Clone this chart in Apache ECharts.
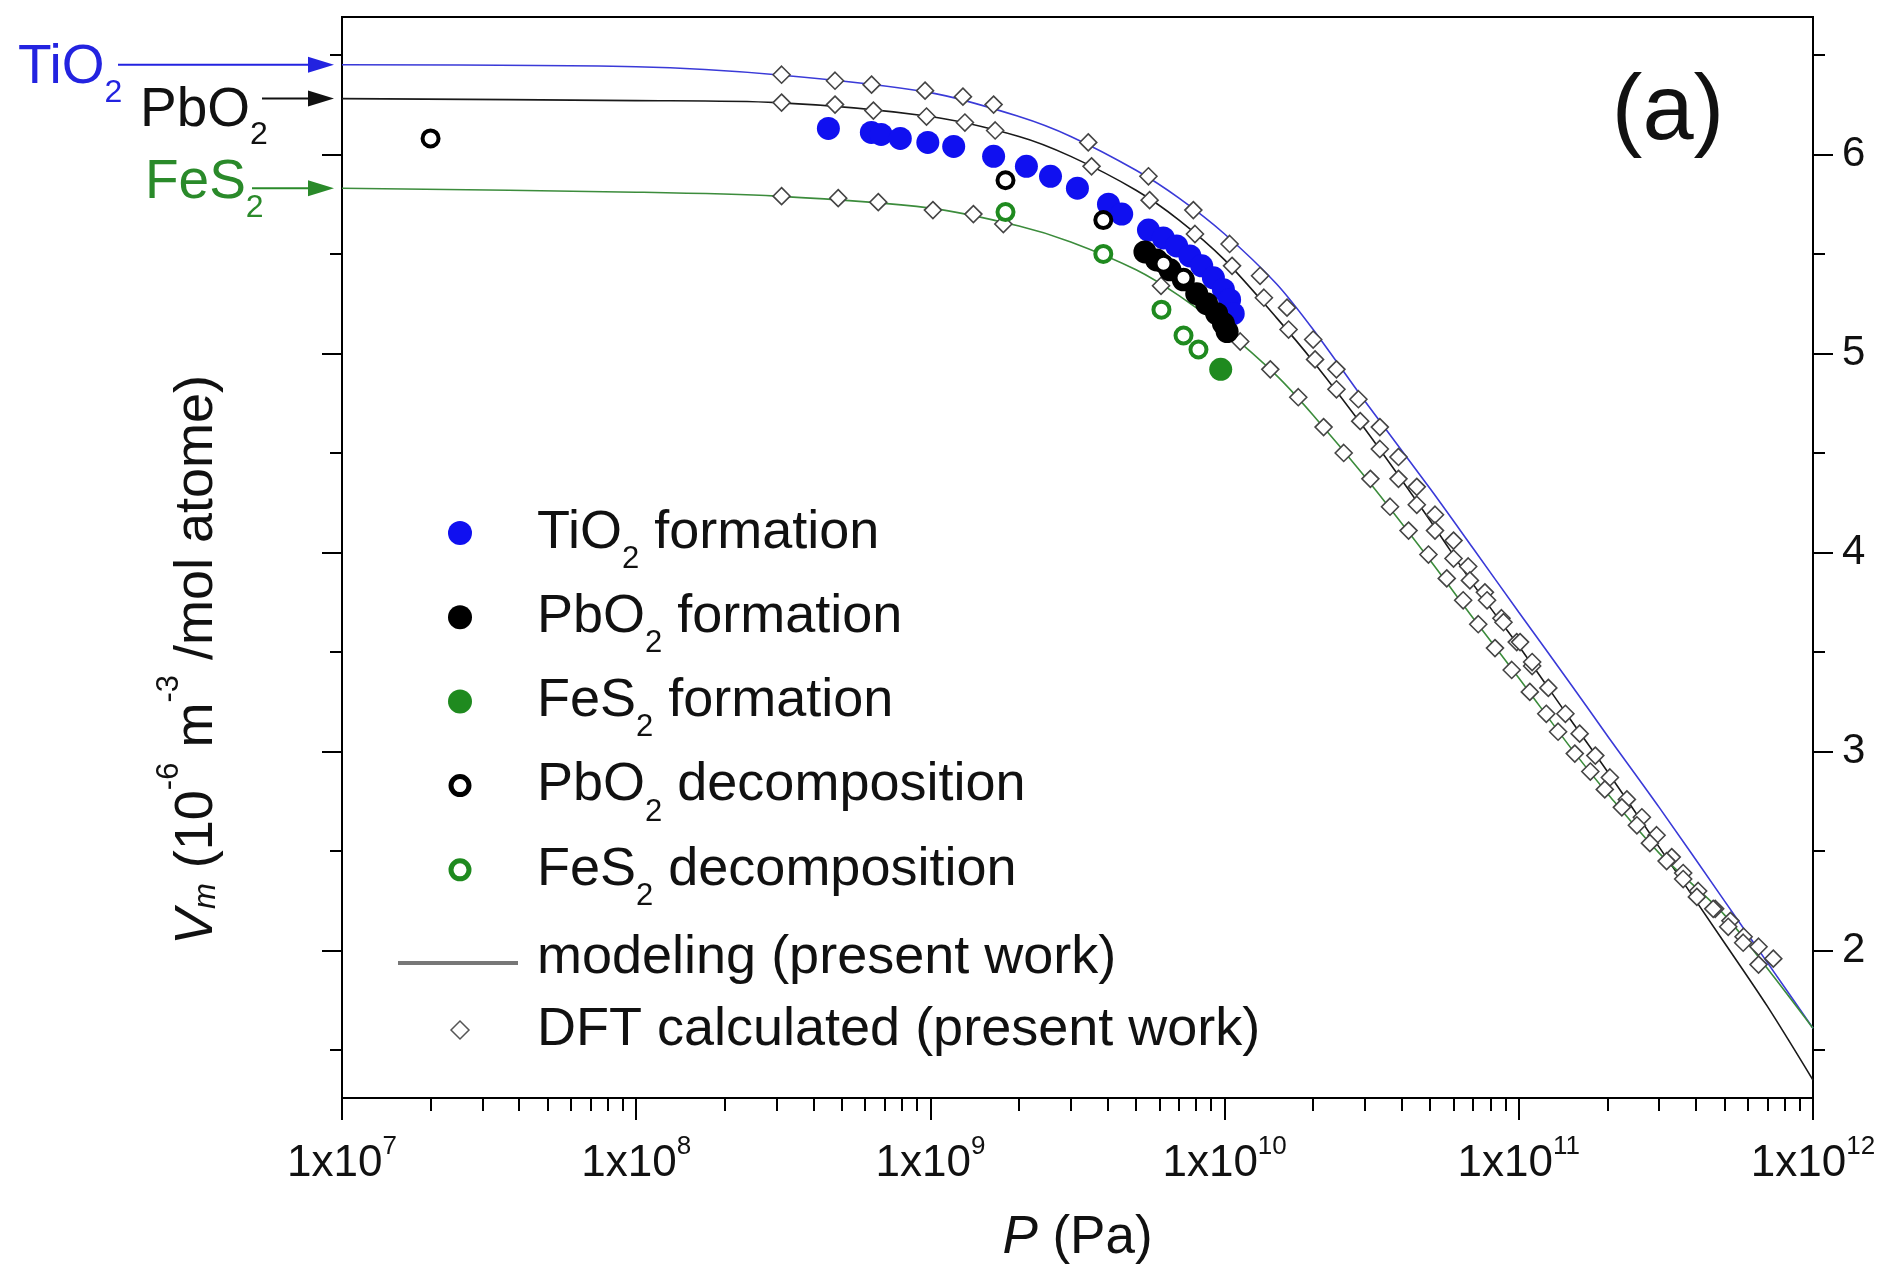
<!DOCTYPE html>
<html>
<head>
<meta charset="utf-8">
<title>Vm vs P</title>
<script src="https://cdn.jsdelivr.net/npm/echarts@6/dist/echarts.min.js"></script>
<style>
html, body { margin: 0; padding: 0; background: #fff; }
#main { width: 1881px; height: 1278px; }
</style>
</head>
<body>
<div id="main"></div>
<script>
var FONT = '"Liberation Sans", Arial, Helvetica, sans-serif';

// axis ticks
var xMajorTicks = [1e7, 1e8, 1e9, 1e10, 1e11, 1e12];
var xMinorMantissa = [2, 3, 4, 5, 6, 7, 8, 9];
var yMajorTicks = [2, 3, 4, 5, 6];
var yMinorTicks = [1.5, 2.5, 3.5, 4.5, 5.5, 6.5];

// modeling curves [P (Pa), Vm]
var modelTiO2 = [[1e7, 6.45], [1e8, 6.44], [3e8, 6.40], [1e9, 6.31], [2e9, 6.19], [3e9, 6.09], [5e9, 5.92], [7e9, 5.78], [1e10, 5.60], [1.5e10, 5.35], [2e10, 5.12], [3e10, 4.76], [5e10, 4.32], [7e10, 4.02], [1e11, 3.70], [1.5e11, 3.34], [2e11, 3.08], [3e11, 2.72], [5e11, 2.25], [7e11, 1.94], [1e12, 1.61]];
var modelPbO2 = [[1e7, 6.28], [1e8, 6.27], [3e8, 6.26], [1e9, 6.19], [2e9, 6.09], [3e9, 5.99], [5e9, 5.82], [7e9, 5.67], [1e10, 5.47], [1.5e10, 5.18], [2e10, 4.96], [3e10, 4.62], [5e10, 4.16], [7e10, 3.84], [1e11, 3.53], [1.5e11, 3.16], [2e11, 2.90], [3e11, 2.52], [5e11, 2.04], [7e11, 1.72], [1e12, 1.35]];
var modelFeS2 = [[1e7, 5.83], [1e8, 5.81], [3e8, 5.79], [1e9, 5.73], [2e9, 5.64], [3e9, 5.56], [5e9, 5.42], [7e9, 5.29], [1e10, 5.12], [1.5e10, 4.89], [2e10, 4.69], [3e10, 4.38], [5e10, 3.96], [7e10, 3.67], [1e11, 3.37], [1.5e11, 3.02], [2e11, 2.79], [3e11, 2.49], [5e11, 2.18], [7e11, 1.91], [1e12, 1.61]];

// DFT calculated points
var dftTiO2 = [[3.12e8, 6.40], [4.74e8, 6.37], [6.31e8, 6.35], [9.59e8, 6.32], [1.29e9, 6.29], [1.64e9, 6.25], [3.44e9, 6.06], [5.51e9, 5.89], [7.83e9, 5.72], [1.04e10, 5.55], [1.32e10, 5.39], [1.63e10, 5.23], [2.0e10, 5.07], [2.4e10, 4.92], [2.85e10, 4.77], [3.37e10, 4.63], [3.9e10, 4.48], [4.5e10, 4.33], [5.19e10, 4.19], [6.0e10, 4.06], [6.73e10, 3.93], [7.67e10, 3.80], [8.73e10, 3.67], [9.84e10, 3.55], [1.11e11, 3.43], [1.26e11, 3.32], [1.44e11, 3.19], [1.61e11, 3.09], [1.82e11, 2.98], [2.04e11, 2.87], [2.33e11, 2.76], [2.62e11, 2.67], [2.94e11, 2.58], [3.31e11, 2.47], [3.62e11, 2.39], [4.07e11, 2.30], [4.65e11, 2.21], [5.24e11, 2.15], [5.81e11, 2.07], [6.53e11, 2.02], [7.33e11, 1.96]];
var dftPbO2 = [[3.12e8, 6.26], [4.74e8, 6.25], [6.4e8, 6.22], [9.7e8, 6.19], [1.31e9, 6.16], [1.66e9, 6.12], [3.53e9, 5.94], [5.56e9, 5.77], [7.93e9, 5.60], [1.06e10, 5.44], [1.36e10, 5.28], [1.65e10, 5.12], [2.03e10, 4.97], [2.4e10, 4.82], [2.89e10, 4.66], [3.37e10, 4.52], [3.9e10, 4.37], [4.5e10, 4.24], [5.19e10, 4.11], [6.0e10, 3.97], [6.82e10, 3.86], [7.8e10, 3.76], [8.87e10, 3.65], [1.01e11, 3.55], [1.11e11, 3.45]];
var dftFeS2 = [[3.12e8, 5.79], [4.86e8, 5.78], [6.65e8, 5.76], [1.02e9, 5.72], [1.4e9, 5.70], [1.77e9, 5.65], [6.08e9, 5.34], [1.13e10, 5.06], [1.43e10, 4.92], [1.78e10, 4.78], [2.17e10, 4.63], [2.54e10, 4.50], [3.13e10, 4.37], [3.65e10, 4.23], [4.22e10, 4.11], [4.93e10, 3.99], [5.69e10, 3.87], [6.47e10, 3.76], [7.28e10, 3.64], [8.3e10, 3.52], [9.46e10, 3.41], [1.09e11, 3.30], [1.24e11, 3.19], [1.36e11, 3.10], [1.55e11, 2.99], [1.75e11, 2.90], [1.96e11, 2.81], [2.24e11, 2.72], [2.52e11, 2.63], [2.79e11, 2.54], [3.18e11, 2.45], [3.62e11, 2.36], [4.03e11, 2.27], [4.58e11, 2.21], [5.15e11, 2.12], [5.79e11, 2.04], [6.53e11, 1.93]];

// experimental points
var tio2Formation = [[4.5e8, 6.13], [6.3e8, 6.11], [6.8e8, 6.10], [7.9e8, 6.08], [9.8e8, 6.06], [1.2e9, 6.04], [1.64e9, 5.99], [2.12e9, 5.94], [2.56e9, 5.89], [3.16e9, 5.83], [4.03e9, 5.75], [4.47e9, 5.70], [5.51e9, 5.62], [6.19e9, 5.58], [6.87e9, 5.54], [7.62e9, 5.49], [8.36e9, 5.44], [9.16e9, 5.38], [9.91e9, 5.32], [1.04e10, 5.27], [1.07e10, 5.20]];
var pbo2Formation = [[5.36e9, 5.51], [5.87e9, 5.47], [6.52e9, 5.42], [7.24e9, 5.37], [8.04e9, 5.30], [8.69e9, 5.25], [9.4e9, 5.20], [9.91e9, 5.15], [1.02e10, 5.11]];
var fes2Formation = [[9.7e9, 4.92]];
var pbo2Decomposition = [[2e7, 6.08], [1.8e9, 5.87], [3.87e9, 5.67], [6.2e9, 5.45], [7.25e9, 5.38]];
var fes2Decomposition = [[1.8e9, 5.71], [3.87e9, 5.50], [6.1e9, 5.22], [7.25e9, 5.09], [8.15e9, 5.02]];

var BLUE = '#1010f0';
var GREEN = '#1f8a1f';

var xMinorTicks = [];
for (var d = 0; d < xMajorTicks.length - 1; d++) {
	for (var k = 0; k < xMinorMantissa.length; k++) {
		xMinorTicks.push(xMinorMantissa[k] * xMajorTicks[d]);
	}
}

var Y_MIN = 1.26, Y_MAX = 6.69;

function yAxisDef(pos, ticks, len, labels) {
	return {
		type: 'value', position: pos, min: Y_MIN, max: Y_MAX,
		axisLine: { show: true, onZero: false, lineStyle: { color: '#000', width: 2 } },
		axisTick: { show: true, inside: false, length: len, customValues: ticks, lineStyle: { color: '#000', width: 2 } },
		axisLabel: labels ? { show: true, customValues: labels, margin: 29, fontSize: 42, fontFamily: FONT, color: '#111' } : { show: false },
		splitLine: { show: false }
	};
}

function lineSeries(name, data, color) {
	return {
		name: name, type: 'line', data: data, smooth: 0.3,
		symbol: 'none', showSymbol: false, silent: true, z: 2,
		lineStyle: { color: color, width: 1.6 }
	};
}

function scatterSeries(name, data, symbol, size, style, z) {
	style.opacity = 1;
	return { name: name, type: 'scatter', data: data, symbol: symbol, symbolSize: size, itemStyle: style, z: z, silent: true };
}

var dftStyle = function () { return { color: '#fff', borderColor: '#444', borderWidth: 1.6 }; };

var option = {
	animation: false,
	backgroundColor: '#fff',
	grid: {
		left: 342, right: 68, top: 17, bottom: 180,
		show: true, borderColor: '#000', borderWidth: 2,
		containLabel: false, outerBoundsMode: 'none'
	},
	xAxis: [{
		type: 'log', logBase: 10, position: 'bottom', min: 1e7, max: 1e12,
		axisLine: { show: true, onZero: false, lineStyle: { color: '#000', width: 2 } },
		axisTick: { show: true, inside: false, length: 22, customValues: xMajorTicks, lineStyle: { color: '#000', width: 2 } },
		axisLabel: {
			show: true, customValues: xMajorTicks, margin: 36,
			formatter: function (v) {
				return '{m|1x10}{e|' + Math.round(Math.log10(v)) + '}';
			},
			rich: {
				m: { fontSize: 44, lineHeight: 60, fontFamily: FONT, color: '#111' },
				e: { fontSize: 26, lineHeight: 26, verticalAlign: 'top', fontFamily: FONT, color: '#111' }
			}
		},
		splitLine: { show: false },
		name: '{i|P}{m| (Pa)}', nameLocation: 'middle', nameGap: 114,
		nameTextStyle: {
			rich: {
				i: { fontSize: 53, fontStyle: 'italic', fontFamily: FONT, color: '#111' },
				m: { fontSize: 53, fontFamily: FONT, color: '#111' }
			}
		}
	}, {
		type: 'log', logBase: 10, position: 'bottom', min: 1e7, max: 1e12,
		axisLine: { show: false },
		axisTick: { show: true, inside: false, length: 13, customValues: xMinorTicks, lineStyle: { color: '#000', width: 2 } },
		axisLabel: { show: false },
		splitLine: { show: false }
	}],
	yAxis: [
		yAxisDef('left', yMajorTicks, 20, null),
		yAxisDef('left', yMinorTicks, 12, null),
		yAxisDef('right', yMajorTicks, 20, yMajorTicks),
		yAxisDef('right', yMinorTicks, 12, null)
	],
	series: [
		lineSeries('TiO2 modeling', modelTiO2, '#3a3ad8'),
		lineSeries('PbO2 modeling', modelPbO2, '#1a1a1a'),
		lineSeries('FeS2 modeling', modelFeS2, '#3c8c3c'),
		scatterSeries('TiO2 DFT', dftTiO2, 'diamond', 17, dftStyle(), 3),
		scatterSeries('PbO2 DFT', dftPbO2, 'diamond', 17, dftStyle(), 3),
		scatterSeries('FeS2 DFT', dftFeS2, 'diamond', 17, dftStyle(), 3),
		scatterSeries('TiO2 formation', tio2Formation, 'circle', 23, { color: BLUE }, 4),
		scatterSeries('PbO2 formation', pbo2Formation, 'circle', 23, { color: '#000' }, 5),
		scatterSeries('FeS2 formation', fes2Formation, 'circle', 23, { color: GREEN }, 5),
		scatterSeries('PbO2 decomposition', pbo2Decomposition, 'circle', 16, { color: '#fff', borderColor: '#000', borderWidth: 4 }, 6),
		scatterSeries('FeS2 decomposition', fes2Decomposition, 'circle', 16, { color: '#fff', borderColor: GREEN, borderWidth: 4 }, 6)
	]
};

var chart = echarts.init(document.getElementById('main'));
chart.setOption(option);

// rich text styles with subscripts
function bigRich(color, size, subPad) {
	return {
		m: { fontSize: size, lineHeight: 90, fontFamily: FONT, fill: color },
		s: { fontSize: Math.round(size * 0.58), lineHeight: 30, verticalAlign: 'top', padding: [subPad, 0, 0, 0], fontFamily: FONT, fill: color }
	};
}

var graphics = [];

// "(a)"
graphics.push({ type: 'text', x: 1668, y: 114, style: { text: '(a)', fontSize: 92, fontFamily: FONT, fill: '#111', align: 'center', verticalAlign: 'middle' } });

// y axis title
graphics.push({
	type: 'text', x: 197, y: 660, rotation: Math.PI / 2,
	style: {
		text: '{i|V}{is|m}{m| (10}{p|-6}{m| m}{p|-3}{m| /mol atome)}',
		align: 'center', verticalAlign: 'middle',
		rich: {
			m: { fontSize: 54, lineHeight: 86, fontFamily: FONT, fill: '#111' },
			i: { fontSize: 54, lineHeight: 86, fontStyle: 'italic', fontFamily: FONT, fill: '#111' },
			is: { fontSize: 31, lineHeight: 31, fontStyle: 'italic', verticalAlign: 'top', padding: [37, 0, 0, 0], fontFamily: FONT, fill: '#111' },
			p: { fontSize: 31, lineHeight: 31, verticalAlign: 'top', fontFamily: FONT, fill: '#111' }
		}
	}
});

// arrows to the start of each modeling curve
var axisX = chart.convertToPixel({ xAxisIndex: 0 }, xMajorTicks[0]);
var tipX = axisX - 8;
var arrows = [
	{ label: '{m|TiO}{s|2}', color: '#2323e0', y0: modelTiO2[0][1], tail: 118, textX: 18, dy: 3 },
	{ label: '{m|PbO}{s|2}', color: '#111', y0: modelPbO2[0][1], tail: 262, textX: 140, dy: 12 },
	{ label: '{m|FeS}{s|2}', color: '#2a8a2a', y0: modelFeS2[0][1], tail: 252, textX: 145, dy: -5 }
];
arrows.forEach(function (a) {
	var y = chart.convertToPixel({ yAxisIndex: 0 }, a.y0);
	graphics.push({ type: 'line', shape: { x1: a.tail, y1: y, x2: tipX - 20, y2: y }, style: { stroke: a.color, lineWidth: 2 } });
	graphics.push({ type: 'polygon', shape: { points: [[tipX - 26, y - 8], [tipX, y], [tipX - 26, y + 8]] }, style: { fill: a.color } });
	graphics.push({ type: 'text', x: a.textX, y: y + a.dy, style: { text: a.label, align: 'left', verticalAlign: 'middle', rich: bigRich(a.color, 55, 54) } });
});

// legend
var legendX = 460, textX = 537;
var legendRows = [
	{ kind: 'dot', fill: BLUE, text: '{m|TiO}{s|2}{m| formation}' },
	{ kind: 'dot', fill: '#000', text: '{m|PbO}{s|2}{m| formation}' },
	{ kind: 'dot', fill: GREEN, text: '{m|FeS}{s|2}{m| formation}' },
	{ kind: 'ring', stroke: '#000', text: '{m|PbO}{s|2}{m| decomposition}' },
	{ kind: 'ring', stroke: GREEN, text: '{m|FeS}{s|2}{m| decomposition}' }
];
legendRows.forEach(function (r, i) {
	var y = 533 + i * 84.2;
	if (r.kind === 'dot') {
		graphics.push({ type: 'circle', shape: { cx: legendX, cy: y, r: 12 }, style: { fill: r.fill } });
	} else {
		graphics.push({ type: 'circle', shape: { cx: legendX, cy: y, r: 9 }, style: { fill: '#fff', stroke: r.stroke, lineWidth: 5 } });
	}
	graphics.push({ type: 'text', x: textX, y: y, style: { text: r.text, align: 'left', verticalAlign: 'middle', rich: bigRich('#111', 54, 56) } });
});
graphics.push({ type: 'line', shape: { x1: 398, y1: 963, x2: 518, y2: 963 }, style: { stroke: '#777', lineWidth: 4 } });
graphics.push({ type: 'text', x: textX, y: 958, style: { text: 'modeling (present work)', fontSize: 54, fontFamily: FONT, fill: '#111', align: 'left', verticalAlign: 'middle' } });
graphics.push({ type: 'polygon', shape: { points: [[legendX - 9, 1030], [legendX, 1021], [legendX + 9, 1030], [legendX, 1039]] }, style: { fill: '#fff', stroke: '#555', lineWidth: 1.5 } });
graphics.push({ type: 'text', x: textX, y: 1030, style: { text: 'DFT calculated (present work)', fontSize: 54, fontFamily: FONT, fill: '#111', align: 'left', verticalAlign: 'middle' } });

chart.setOption({ graphic: graphics });
</script>
</body>
</html>
